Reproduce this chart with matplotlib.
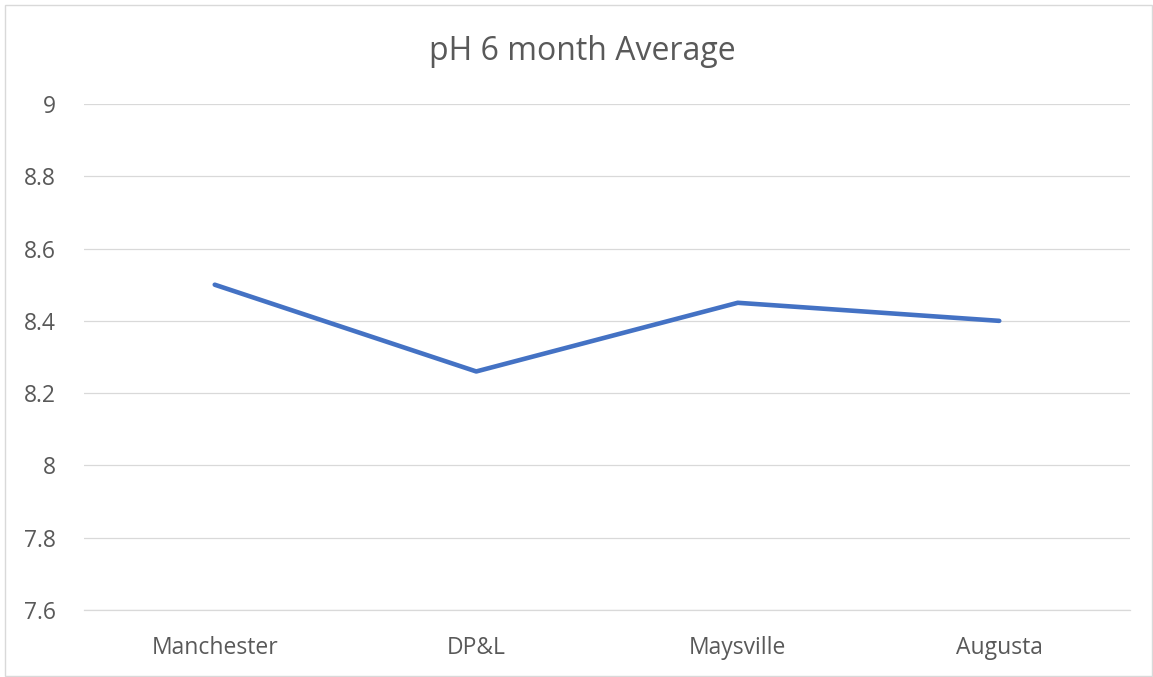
import matplotlib
matplotlib.use("Agg")
import matplotlib.pyplot as plt
from matplotlib.patches import Rectangle

categories = ["Manchester", "DP&L", "Maysville", "Augusta"]
ph_values = [8.5, 8.26, 8.45, 8.4]
y_ticks = [7.6, 7.8, 8.0, 8.2, 8.4, 8.6, 8.8, 9.0]
y_tick_labels = ["7.6", "7.8", "8", "8.2", "8.4", "8.6", "8.8", "9"]
title = "pH 6 month Average"

plt.rcParams['font.family'] = ['Open Sans', 'DejaVu Sans']
text_color = "#595959"

fig = plt.figure(figsize=(11.53, 6.77), dpi=100)
ax = fig.add_axes([84/1153, 1-610/677, (1130-84)/1153, (610-104)/677])

x = list(range(len(categories)))
ax.plot(x, ph_values, color="#4472C4", linewidth=3.3, solid_capstyle="round", solid_joinstyle="round")
ax.set_xlim(-0.5, len(categories) - 0.5)
ax.set_ylim(7.6, 9.0)
ax.set_yticks(y_ticks)
ax.set_yticklabels(y_tick_labels)
ax.set_xticks(x)
ax.set_xticklabels(categories)
ax.grid(axis="y", color="#D9D9D9", linewidth=0.9)
ax.set_axisbelow(True)
for s in ["top", "right", "left"]:
    ax.spines[s].set_visible(False)
ax.spines["bottom"].set_color("#D9D9D9")
ax.spines["bottom"].set_linewidth(0.9)
ax.tick_params(axis="both", length=0, colors=text_color, labelsize=16.5)
ax.tick_params(axis="y", pad=20)
ax.tick_params(axis="x", pad=19)

fig.text(582/1153, 1-51/677, title, ha="center", va="center", fontsize=23, color=text_color)

fig.patches.append(Rectangle((5/1153, 1/677), 1147/1153, 671/677, transform=fig.transFigure,
                             fill=False, edgecolor="#D9D9D9", linewidth=1))

fig.savefig("out.png", dpi=100)
